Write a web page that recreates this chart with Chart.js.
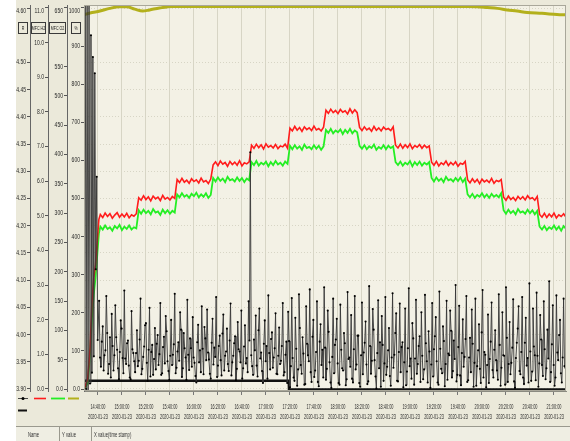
<!DOCTYPE html>
<html><head><meta charset="utf-8">
<script src="https://cdn.jsdelivr.net/npm/chart.js@4.4.1/dist/chart.umd.min.js"></script>
<style>html,body{margin:0;padding:0;background:#fff;overflow:hidden}canvas{display:block}</style>
</head><body>
<canvas id="c" width="570" height="441"></canvas>
<script>
const FONT = "'Liberation Sans', Arial, sans-serif";

// ---------- axis ticks ----------
const rTicks   = [3.90,3.95,4.00,4.05,4.10,4.15,4.20,4.25,4.30,4.35,4.40,4.45,4.50,4.60];
const h2Ticks  = [0,1,2,3,4,5,6,7,8,9,10,11];
const o2Ticks  = [0,50,100,150,200,250,300,350,400,450,500,550,650];
const pctTicks = [0,100,200,300,400,500,600,700,800,900,1000];
const axisNames = ['R','MFC H2','MFC O2','%'];
const tickMinutes = [40,60,80,100,120,140,160,180,200,220,240,260,280,300,320,340,360,380,400,420];
const tickTimes = ['14:40:00','15:00:00','15:20:00','15:40:00','16:00:00','16:20:00','16:40:00','17:00:00','17:20:00','17:40:00',
                   '18:00:00','18:20:00','18:40:00','19:00:00','19:20:00','19:40:00','20:00:00','20:20:00','20:40:00','21:00:00'];
const tickDate = '2020-01-23';
const tableHeaders = ['Name','Y value','X value(time stamp)'];

// ---------- series: R (black, noisy) -- x in minutes after 14:00 ----------
const blackStartMinutes = [28.6,29.4,30.2,31.0,31.8,32.6,33.4,34.2,35.0,35.8,36.6,37.4,38.2,39.0,39.8];
const blackStartValues  = [3.905,4.62,3.90,4.62,3.895,4.62,3.91,4.55,3.93,4.51,3.96,4.48,4.12,4.29,3.99];
const blackFirstMinute = 41, blackInterval = 1.5, blackOffsetB = 0.75;
const blackValuesA = [
4.062,3.941,4.015,3.962,4.071,3.928,3.995,4.038,3.934,4.054,3.972,3.918,4.026,3.957,4.081,3.946,3.989,3.921,4.043,3.966,
3.931,4.008,3.952,4.066,3.937,3.978,4.021,3.915,4.049,3.968,3.926,4.012,3.983,3.944,4.058,3.929,3.996,4.034,3.951,3.917,
4.027,3.963,4.075,3.939,3.986,4.041,3.922,4.003,3.958,4.064,3.935,3.975,4.032,3.948,3.912,4.018,3.971,4.052,3.927,3.993,
4.046,3.954,3.919,4.029,3.976,4.069,3.943,3.998,3.925,4.037,3.961,4.011,3.933,4.057,3.949,3.984,3.916,4.023,3.969,4.044,
3.938,4.017,3.957,4.061,4.335,3.942,3.991,4.035,3.923,4.048,3.967,3.911,4.026,3.979,4.072,3.936,4.004,3.958,4.039,3.927,
4.013,3.952,4.058,3.931,3.987,4.042,3.903,4.067,3.921,4.031,3.906,4.074,3.944,3.995,3.908,4.052,3.962,4.083,3.913,4.027,
3.934,4.061,3.905,4.019,3.972,4.087,3.917,4.044,3.949,3.902,4.066,3.981,4.029,3.911,4.055,3.938,4.003,3.907,4.078,3.958,
4.036,3.912,4.071,3.945,3.998,3.904,4.059,3.967,4.024,3.909,4.089,3.928,4.047,3.953,3.901,4.063,3.986,4.034,3.915,4.069,
3.941,4.012,3.906,4.076,3.963,4.039,3.914,4.057,3.977,3.903,4.048,3.932,4.085,3.956,4.021,3.908,4.064,3.946,3.997,4.041,
3.918,4.073,3.951,4.006,3.902,4.058,3.973,4.032,3.912,4.079,3.937,4.015,3.905,4.062,3.965,4.044,3.921,3.989,4.091,3.926,
4.053,3.907,4.028,3.959,4.071,3.916,3.994,4.046,3.904,4.066,3.942,4.019,3.911,4.082,3.968,3.903,4.037,3.955,4.059,3.921,
4.008,3.934,4.074,3.906,4.041,3.961,4.087,3.913,4.023,3.948,4.065,3.902,3.985,4.052,3.927,4.069,3.909,4.031,3.957,4.094,
3.915,4.048,3.962,4.077,3.904,4.036,3.944,4.061,3.918,4.009,4.098,3.931,4.054,3.906,4.072,3.953,4.027,3.912,4.066,3.939];
const blackValuesB = [
3.958,3.987,3.934,3.971,4.003,3.946,3.921,3.979,3.962,3.995,3.938,3.968,4.011,3.929,3.956,3.984,3.943,3.918,3.973,3.951,
3.966,3.942,3.991,3.927,3.959,4.017,3.948,3.972,3.923,3.981,3.955,3.936,3.999,3.964,3.926,3.977,3.947,4.006,3.933,3.961,
3.944,3.982,3.929,3.969,3.952,4.009,3.938,3.975,3.917,3.963,3.993,3.941,3.958,3.924,3.986,3.949,3.931,3.974,4.014,3.953,
3.967,3.928,3.985,3.945,3.959,3.922,3.979,3.953,4.002,3.934,3.969,3.946,3.989,3.925,3.961,3.997,3.937,3.973,3.949,3.919,
3.978,3.947,3.931,3.989,3.962,3.926,3.971,3.943,4.008,3.956,3.933,3.983,3.951,3.919,3.966,3.992,3.939,3.975,3.928,3.961,
3.946,3.979,3.925,3.963,3.911,3.988,3.942,3.957,3.915,3.974,3.936,4.012,3.928,3.965,3.909,3.983,3.951,3.931,3.996,3.922,
3.968,3.913,3.987,3.944,3.921,3.976,3.937,4.005,3.912,3.959,3.929,3.991,3.947,3.908,3.972,3.934,3.984,3.918,3.955,3.941,
3.919,3.973,3.936,3.998,3.911,3.962,3.927,3.985,3.945,3.914,3.979,3.952,4.009,3.923,3.966,3.938,3.904,3.981,3.947,3.926,
3.971,3.924,3.958,3.939,4.003,3.915,3.968,3.931,3.986,3.949,3.907,3.975,3.942,3.919,3.993,3.956,3.928,3.979,3.913,3.961,
3.936,3.984,3.912,3.969,3.945,3.923,3.997,3.951,3.908,3.974,3.929,3.988,3.946,3.917,3.962,4.007,3.933,3.955,3.914,3.977,
3.925,3.966,3.941,3.992,3.913,3.958,3.931,3.983,3.948,3.906,3.971,3.937,4.004,3.921,3.963,3.944,3.911,3.987,3.935,3.972,
3.953,3.917,3.981,3.939,3.962,3.908,3.994,3.946,3.927,3.976,3.914,3.957,4.011,3.933,3.968,3.921,3.985,3.943,3.912,3.969,
3.932,3.978,3.916,3.961,3.947,3.991,3.924,3.973,3.938,3.956,3.913,3.982,3.944,3.921,3.967,3.999,3.929,3.958,3.942,3.915];

// thick black base line (R)
const baseMinutes = [28.4,199,199.2,430];
const baseValues  = [3.915,3.915,3.899,3.899];

// ---------- MFC H2 (red) and MFC O2 (green) ----------
const rampMinutes = [28.6,31.5,33.5,35.0,36.5,38.0,39.5,40.8];
const redRamp     = [0.0,0.3,1.2,2.5,3.2,3.6,4.3,4.9];
const greenRamp   = [0,10,60,120,160,190,230,265];
const flowFirstMinute = 42, flowInterval = 2;
const redValues = [
5.04,4.95,5.08,4.98,5.06,4.93,5.02,5.09,4.96,5.05,4.97,5.07,4.94,5.03,4.99,5.06,
5.52,5.45,5.58,5.47,5.55,5.43,5.57,5.49,5.54,5.44,5.59,5.48,5.53,5.46,5.56,5.50,
6.05,5.96,6.08,5.97,6.03,5.94,6.07,5.99,6.04,5.95,6.09,5.98,6.02,5.93,6.06,
6.47,6.56,6.45,6.58,6.49,6.54,6.43,6.57,6.48,6.55,6.46,6.59,6.44,6.53,6.50,6.56,
7.04,6.95,7.07,6.97,7.05,6.93,7.08,6.98,7.03,6.96,7.06,6.94,7.02,6.99,7.07,6.95,
7.53,7.45,7.58,7.47,7.55,7.44,7.57,7.49,7.54,7.46,7.59,7.48,7.52,7.45,7.56,
8.05,7.96,8.08,7.98,8.04,7.95,8.07,7.99,8.03,7.94,8.09,7.97,8.06,7.98,
7.55,7.46,7.57,7.48,7.53,7.44,7.58,7.47,7.54,7.45,7.56,7.49,7.52,7.46,7.57,
7.04,6.96,7.07,6.95,7.05,6.97,7.08,6.94,7.03,6.98,7.06,6.95,7.04,6.97,7.02,
6.55,6.46,6.57,6.44,6.53,6.48,6.58,6.45,6.54,6.47,6.56,6.43,6.52,6.49,6.57,
6.04,5.95,6.07,5.97,6.05,5.93,6.06,5.98,6.03,5.96,6.08,5.94,6.02,5.99,6.05,
5.54,5.45,5.57,5.47,5.53,5.44,5.56,5.48,5.55,5.46,5.58,5.49,5.52,5.45,5.56,
5.04,4.96,5.07,4.95,5.05,4.97,5.08,4.94,5.03,4.98,5.06,4.96];
const greenValues = [
277,272,279,273,276,270,278,274,280,271,277,273,279,272,276,274,
305,299,306,300,304,298,307,301,303,297,306,300,305,299,304,301,
332,327,334,328,331,326,333,329,335,327,332,328,334,326,331,
360,354,361,355,359,353,362,356,358,354,361,355,360,353,359,356,
387,382,389,381,386,383,388,380,387,382,389,383,386,381,388,384,
415,409,416,410,414,408,417,411,413,409,416,410,415,408,414,
442,437,444,436,441,438,443,435,442,437,444,436,441,438,
415,410,416,409,414,411,417,408,413,410,416,409,415,411,414,
387,382,388,381,386,383,389,380,387,382,388,381,386,383,387,
360,354,361,355,359,353,362,356,358,354,360,355,361,353,359,
332,327,333,326,331,328,334,327,332,326,333,328,331,327,334,
305,299,306,300,304,298,307,301,303,299,306,300,305,298,304,
277,272,278,271,276,273,279,272,277,270,278,273];

// ---------- % (yellow) ----------
const yellowMinutes = [28.4,33.4,41.7,49.9,58.2,64,70.6,77.3,83,91.3,102,120,160,200,250,300,348,356,364.5,372.8,381,389.3,397.6,410,422.5,430];
const yellowValues  = [982,987,992,999,1003,1003,997,992,995,1000,1004,1004,1004,1004,1004,1004,1004,1003,1001,999,995,992,988,986,983,982];

// ---------- build point lists ----------
const blackPts = blackStartMinutes.map((m,i)=>({x:m,y:blackStartValues[i]}));
blackValuesA.forEach((v,i)=>{
  blackPts.push({x:blackFirstMinute+i*blackInterval, y:v});
  blackPts.push({x:blackFirstMinute+i*blackInterval+blackOffsetB, y:blackValuesB[i]});
});
const basePts = baseMinutes.map((m,i)=>({x:m,y:baseValues[i]}));
const redPts = rampMinutes.map((m,i)=>({x:m,y:redRamp[i]}))
  .concat(redValues.map((v,i)=>({x:flowFirstMinute+i*flowInterval,y:v})));
const greenPts = rampMinutes.map((m,i)=>({x:m,y:greenRamp[i]}))
  .concat(greenValues.map((v,i)=>({x:flowFirstMinute+i*flowInterval,y:v})));
const yellowPts = yellowMinutes.map((m,i)=>({x:m,y:yellowValues[i]}));

const PANEL = '#ebe9da', PLOT = '#f3f1e5', GRID = '#d7d5c5';
const yFormats = {
  yR: v => v.toFixed(2),
  yH2: v => v.toFixed(1),
  yO2: v => v===0 ? '0.0' : String(v),
  yPct: v => v===0 ? '0.0' : String(v)
};
const yTickSets = { yR:rTicks, yH2:h2Ticks, yO2:o2Ticks, yPct:pctTicks };

function yAxis(id,min,max,weight,width,onArea){
  return {
    type:'linear', position:'left', min, max, weight,
    afterBuildTicks: s => { s.ticks = yTickSets[id].map(v=>({value:v})); },
    afterFit: s => { s.width = width; },
    ticks:{ display:false },
    grid:{ drawOnChartArea:onArea, drawTicks:true, tickLength:3, color:GRID, tickColor:'#555', lineWidth:1 },
    border:{ display:true, color:'#666', dash:[1,2] }
  };
}

const bgPlugin = {
  id:'bg',
  beforeDraw(chart){
    const c = chart.ctx, a = chart.chartArea;
    c.save();
    c.fillStyle = '#ffffff'; c.fillRect(0,0,570,441);
    c.fillStyle = PANEL; c.fillRect(16,0,554,426);
    c.fillStyle = PLOT; c.fillRect(a.left,a.top,a.right-a.left,a.bottom-a.top);
    c.fillStyle = '#efeee3'; c.fillRect(16,426,554,15);
    c.restore();
  },
  afterDraw(chart){
    const c = chart.ctx, a = chart.chartArea;
    c.save();
    // plot frame
    c.strokeStyle = '#a9a79a'; c.lineWidth = 1;
    c.strokeRect(a.left+0.5,a.top+0.5,a.right-a.left-1,a.bottom-a.top-1);
    // y tick labels (condensed), positions from the library scales
    c.font = '7px ' + FONT; c.fillStyle = '#2a2a2a'; c.textAlign = 'right'; c.textBaseline = 'middle';
    Object.keys(yTickSets).forEach(id=>{
      const s = chart.scales[id];
      yTickSets[id].forEach(v=>{
        const py = Math.max(s.getPixelForValue(v), 11);
        c.save(); c.translate(s.right-4, py); c.scale(0.72,1); c.fillText(yFormats[id](v),0,0); c.restore();
      });
    });
    // axis name boxes
    const ids = ['yR','yH2','yO2','yPct'];
    const boxW = [9,14,16,9];
    c.font = '6px ' + FONT; c.textAlign='center';
    ids.forEach((id,i)=>{
      const s = chart.scales[id];
      const cx = Math.round((s.left + s.right)/2 - 1);
      const w = boxW[i];
      const x0 = cx - Math.floor(w/2);
      c.fillStyle = PANEL; c.fillRect(x0, 22, w, 11);
      c.strokeStyle = '#3a3a3a'; c.lineWidth = 1;
      c.strokeRect(x0+0.5, 22.5, w, 11);
      c.fillStyle = '#222';
      c.save(); c.translate(x0+w/2+0.5, 28.5); c.scale(0.6,1); c.fillText(axisNames[i],0,0); c.restore();
    });
    // x tick labels (condensed)
    const xs = chart.scales.x;
    c.font = '7px ' + FONT; c.fillStyle = '#2a2a2a';
    tickMinutes.forEach((m,i)=>{
      const px = xs.getPixelForValue(m);
      c.save(); c.translate(px,407); c.scale(0.55,1); c.fillText(tickTimes[i],0,0); c.restore();
      c.save(); c.translate(px,417); c.scale(0.55,1); c.fillText(tickDate,0,0); c.restore();
    });
    // legend samples from datasets
    const ds = chart.data.datasets;
    const legendPos = [[18,398,10],[34,398,12],[51,398,14],[68,398,11],[18,410,9]];
    ds.forEach((d,i)=>{
      const [lx,ly,lw] = legendPos[i];
      c.strokeStyle = d.borderColor; c.lineWidth = Math.min(d.borderWidth,2);
      c.beginPath(); c.moveTo(lx,ly+0.5); c.lineTo(lx+lw,ly+0.5); c.stroke();
      if (d.pointRadius > 0){ c.fillStyle = d.pointBackgroundColor; c.beginPath(); c.arc(lx+lw/2,ly+0.5,1.5,0,Math.PI*2); c.fill(); }
    });
    // bottom table header
    c.strokeStyle = '#9a998e'; c.lineWidth = 1;
    c.beginPath(); c.moveTo(16,426.5); c.lineTo(570,426.5); c.stroke();
    c.beginPath(); c.moveTo(59.5,427); c.lineTo(59.5,441); c.moveTo(91.5,427); c.lineTo(91.5,441); c.stroke();
    c.fillStyle = '#333'; c.font = '7px ' + FONT; c.textAlign='left';
    [[28,0],[62,1],[94,2]].forEach(([tx,k])=>{
      c.save(); c.translate(tx,435); c.scale(0.6,1); c.fillText(tableHeaders[k],0,0); c.restore();
    });
    c.restore();
  }
};

new Chart(document.getElementById('c'), {
  type:'line',
  data:{ datasets:[
    { label:'R', data:blackPts, yAxisID:'yR', borderColor:'#353535', borderWidth:0.9, pointRadius:1.05, pointBackgroundColor:'#000', pointBorderWidth:0, tension:0 },
    { label:'MFC H2', data:redPts, yAxisID:'yH2', borderColor:'#ff1c1c', borderWidth:1.6, pointRadius:0, tension:0 },
    { label:'MFC O2', data:greenPts, yAxisID:'yO2', borderColor:'#24ee24', borderWidth:1.8, pointRadius:0, tension:0 },
    { label:'%', data:yellowPts, yAxisID:'yPct', borderColor:'#b3b01c', borderWidth:3, pointRadius:0, cubicInterpolationMode:'monotone' },
    { label:'R base', data:basePts, yAxisID:'yR', borderColor:'#111111', borderWidth:2.5, pointRadius:0, tension:0 }
  ]},
  options:{
    responsive:false, animation:false, devicePixelRatio:1,
    layout:{ padding:{ left:16, right:1, top:5, bottom:0 } },
    plugins:{ legend:{display:false}, tooltip:{enabled:false}, title:{display:false} },
    scales:{
      x:{ type:'linear', min:28.4, max:430,
          afterBuildTicks: s => { s.ticks = tickMinutes.map(v=>({value:v})); },
          afterFit: s => { s.height = 50; },
          ticks:{ display:false },
          grid:{ color:GRID, tickLength:4, tickColor:'#777', lineWidth:1 },
          border:{ color:'#8a8a80' } },
      yR:   yAxis('yR',3.896325,4.605512,4,14,true),
      yH2:  yAxis('yH2',-0.057743,11.086614,3,18,false),
      yO2:  yAxis('yO2',-3.412,655.118,2,19,false),
      yPct: yAxis('yPct',-5.249,1007.874,1,17,false)
    }
  },
  plugins:[bgPlugin]
});
</script>
</body></html>
